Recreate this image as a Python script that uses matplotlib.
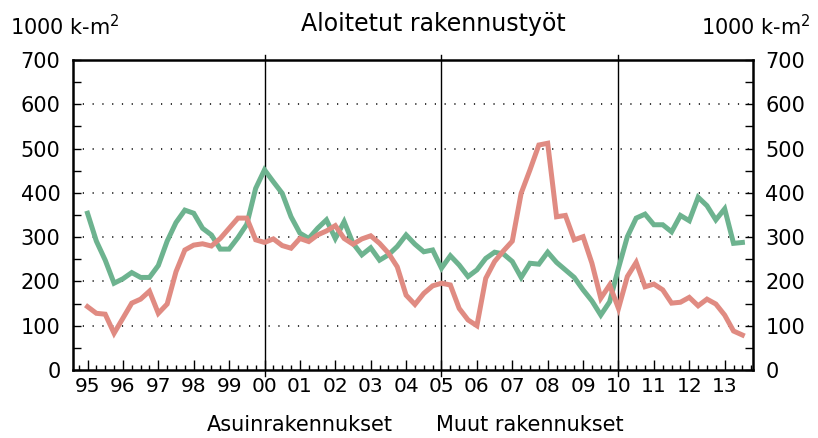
import numpy as np
import matplotlib
matplotlib.use("Agg")
import matplotlib.pyplot as plt
from matplotlib.ticker import MultipleLocator

# quarterly values 1995Q1 .. 2013Q3, 1000 k-m2
asuin = [354, 291, 248, 196, 206, 220, 209, 209, 236, 291,
         333, 361, 354, 320, 305, 273, 273, 299, 329, 410,
         452, 425, 399, 346, 309, 297, 320, 339, 297, 335,
         286, 260, 276, 248, 260, 279, 305, 284, 267, 271,
         230, 258, 237, 211, 226, 252, 266, 262, 245, 209,
         241, 239, 266, 243, 226, 209, 181, 156, 124, 154,
         230, 301, 343, 352, 328, 328, 312, 349, 337, 390,
         371, 339, 364, 286, 288]
muut = [143, 128, 126, 83, 117, 151, 160, 178, 128, 149,
        222, 271, 282, 285, 280, 297, 320, 343, 343, 294,
        288, 296, 281, 275, 297, 290, 305, 314, 326, 297,
        284, 296, 303, 286, 264, 233, 169, 148, 173, 190,
        196, 192, 139, 113, 100, 207, 245, 269, 291, 399,
        452, 508, 512, 346, 349, 294, 301, 241, 162, 192,
        139, 211, 243, 188, 194, 181, 151, 153, 164, 145,
        160, 149, 124, 88, 79]
years = list(range(1995, 2014))
year_labels = [f"{y % 100:02d}" for y in years]

green = "#6db38f"
red = "#e08b82"

x = 1995 + np.arange(len(asuin)) / 4

fig = plt.figure(figsize=(8.18, 4.38), dpi=100)
ax = fig.add_axes([73 / 818, 1 - 370 / 438, 680 / 818, 310 / 438])

ax.plot(x, asuin, color=green, lw=3.6, solid_joinstyle="miter")
ax.plot(x, muut, color=red, lw=3.6, solid_joinstyle="miter")

ax.set_xlim(1994.59, 2013.8)
ax.set_ylim(0, 700)

# dotted grid
for v in range(100, 700, 100):
    ax.axhline(v, color="black", lw=1.1, linestyle=(0, (0.8, 5.6)), zorder=0)

# vertical dividers
for yr in (2000, 2005, 2010):
    ax.plot([yr, yr], [-0.02, 1.015], color="black", lw=1.0,
            transform=ax.get_xaxis_transform(), clip_on=False, zorder=1)

for s in ax.spines.values():
    s.set_linewidth(1.8)

ax.set_xticks(years)
ax.set_xticklabels(year_labels)
ax.xaxis.set_minor_locator(MultipleLocator(0.25))
ax.tick_params(axis="x", which="major", direction="in", length=7.5, width=1,
               labelsize=14.5, pad=5, top=False)
ax.tick_params(axis="x", which="minor", direction="in", length=3.5, width=1, top=False)

ax.set_yticks(range(0, 701, 100))
ax.yaxis.set_minor_locator(MultipleLocator(50))
ax.tick_params(axis="y", which="both", direction="in", length=6, width=1,
               labelsize=15, left=True, right=True, labelleft=True, labelright=True, pad=9)

fig.text(10 / 818, 1 - 27 / 438, "1000 k-m$^2$", fontsize=15, ha="left", va="center")
fig.text(810 / 818, 1 - 27 / 438, "1000 k-m$^2$", fontsize=15, ha="right", va="center")
fig.text(433 / 818, 1 - 24 / 438, "Aloitetut rakennustyöt", fontsize=17, ha="center", va="center")
fig.text(300 / 818, 1 - 425 / 438, "Asuinrakennukset", fontsize=15, ha="center", va="center")
fig.text(530 / 818, 1 - 425 / 438, "Muut rakennukset", fontsize=15, ha="center", va="center")

fig.savefig("out.png", dpi=100)
